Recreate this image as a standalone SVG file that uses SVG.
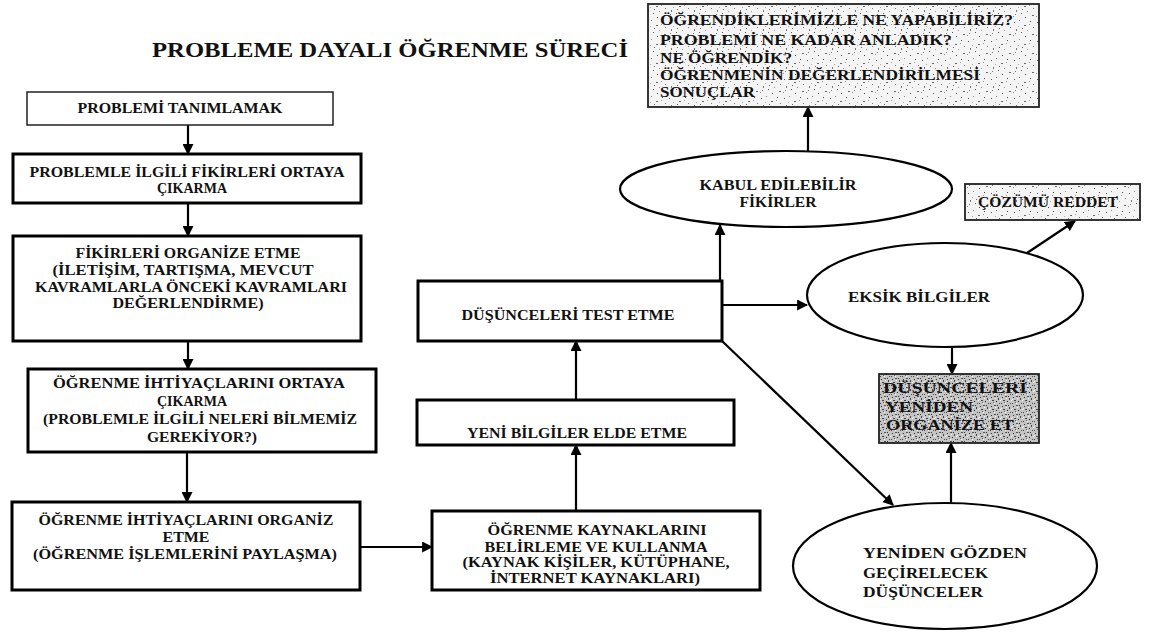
<svg xmlns="http://www.w3.org/2000/svg" width="1152" height="636" viewBox="0 0 1152 636">
<style>
  text { font-family: "Liberation Serif", "DejaVu Serif", serif; font-weight: bold; fill: #111; }
  .t { font-size: 14.5px; }
  .tb { font-size: 15.5px; }
  .c { text-anchor: middle; }
  .title { font-size: 22px; }
  .box { fill: #fff; stroke: #000; stroke-width: 3; }
  .thin { fill: #fff; stroke: #222; stroke-width: 1.5; }
  .ell { fill: #fff; stroke: #000; stroke-width: 2.2; }
  .stip { fill: url(#grain); stroke: #222; stroke-width: 1.8; }
  .stip2 { fill: url(#grain2); stroke: #222; stroke-width: 1.8; }
  .con { stroke: #000; stroke-width: 2.2; fill: none; marker-end: url(#ah); }
</style>
<defs>
  <marker id="ah" viewBox="0 0 10 10" refX="9" refY="5" markerWidth="5" markerHeight="5" markerUnits="strokeWidth" orient="auto">
    <path d="M0,0 L10,5 L0,10 z" fill="#000"/>
  </marker>
  <pattern id="grain" width="23" height="19" patternUnits="userSpaceOnUse">
    <rect width="23" height="19" fill="#f4f4f4"/>
    <rect x="2" y="3" width="1" height="1" fill="#555"/>
    <rect x="7" y="1" width="1" height="1" fill="#888"/>
    <rect x="12" y="6" width="2" height="1" fill="#666"/>
    <rect x="18" y="2" width="1" height="1" fill="#444"/>
    <rect x="4" y="10" width="1" height="2" fill="#777"/>
    <rect x="9" y="13" width="1" height="1" fill="#555"/>
    <rect x="15" y="11" width="1" height="1" fill="#999"/>
    <rect x="20" y="15" width="2" height="1" fill="#666"/>
    <rect x="1" y="16" width="1" height="1" fill="#888"/>
    <rect x="13" y="17" width="1" height="1" fill="#444"/>
    <rect x="21" y="8" width="1" height="1" fill="#777"/>
    <rect x="6" y="7" width="1" height="1" fill="#aaa"/>
    <rect x="10" y="9" width="1" height="1" fill="#666"/>
    <rect x="17" y="5" width="1" height="1" fill="#999"/>
    <rect x="3" y="14" width="1" height="1" fill="#777"/>
  </pattern>
  <pattern id="grain2" width="11" height="9" patternUnits="userSpaceOnUse">
    <rect width="11" height="9" fill="#c4c4c4"/>
    <rect x="1" y="1" width="1" height="1" fill="#333"/>
    <rect x="4" y="0" width="2" height="1" fill="#555"/>
    <rect x="8" y="2" width="1" height="2" fill="#444"/>
    <rect x="2" y="4" width="2" height="1" fill="#444"/>
    <rect x="6" y="5" width="1" height="1" fill="#222"/>
    <rect x="9" y="7" width="1" height="1" fill="#555"/>
    <rect x="0" y="7" width="1" height="1" fill="#444"/>
    <rect x="7" y="0" width="1" height="1" fill="#333"/>
    <rect x="3" y="6" width="1" height="1" fill="#666"/>
    <rect x="4" y="7" width="1" height="1" fill="#fff"/>
    <rect x="10" y="4" width="1" height="1" fill="#fff"/>
    <rect x="5" y="2" width="1" height="1" fill="#fff"/>
    <rect x="0" y="3" width="1" height="1" fill="#eee"/>
  </pattern>
</defs>
<rect width="1152" height="636" fill="#fff"/>

<text class="title" x="152" y="57" textLength="476" lengthAdjust="spacingAndGlyphs">PROBLEME DAYALI ÖĞRENME SÜRECİ</text>

<g id="connectors">
  <line class="con" x1="188" y1="125" x2="188" y2="154"/>
  <line class="con" x1="188" y1="203" x2="188" y2="236"/>
  <line class="con" x1="188" y1="341" x2="188" y2="369"/>
  <line class="con" x1="187" y1="452" x2="187" y2="502"/>
  <line class="con" x1="360" y1="547" x2="432" y2="547"/>
  <line class="con" x1="576" y1="511" x2="576" y2="445"/>
  <line class="con" x1="576" y1="400" x2="576" y2="341"/>
  <line class="con" x1="720" y1="281" x2="720" y2="225"/>
  <line class="con" x1="808" y1="151" x2="808" y2="107"/>
  <line class="con" x1="722" y1="305" x2="807" y2="305"/>
  <line class="con" x1="1027" y1="253" x2="1075" y2="221"/>
  <line class="con" x1="952" y1="347" x2="952" y2="374"/>
  <line class="con" x1="951" y1="503" x2="951" y2="443"/>
  <line class="con" x1="722" y1="341" x2="893" y2="505"/>
</g>

<g id="n-title-box">
  <rect class="stip" x="648" y="4" width="391" height="103"/>
  <text class="tb" x="660" y="25" textLength="353" lengthAdjust="spacingAndGlyphs">ÖĞRENDİKLERİMİZLE NE YAPABİLİRİZ?</text>
  <text class="tb" x="660" y="45" textLength="292" lengthAdjust="spacingAndGlyphs">PROBLEMİ NE KADAR ANLADIK?</text>
  <text class="tb" x="660" y="63" textLength="132" lengthAdjust="spacingAndGlyphs">NE ÖĞRENDİK?</text>
  <text class="tb" x="660" y="80" textLength="320" lengthAdjust="spacingAndGlyphs">ÖĞRENMENİN DEĞERLENDİRİLMESİ</text>
  <text class="tb" x="660" y="97" textLength="95" lengthAdjust="spacingAndGlyphs">SONUÇLAR</text>
</g>

<g id="n1">
  <rect class="thin" x="27" y="92" width="306" height="33"/>
  <text class="t c" x="180" y="113" textLength="205" lengthAdjust="spacingAndGlyphs">PROBLEMİ TANIMLAMAK</text>
</g>

<g id="n2">
  <rect class="box" x="13" y="154" width="348" height="49"/>
  <text class="t c" x="187" y="177" textLength="315" lengthAdjust="spacingAndGlyphs">PROBLEMLE İLGİLİ FİKİRLERİ ORTAYA</text>
  <text class="t c" x="192" y="193" textLength="70" lengthAdjust="spacingAndGlyphs">ÇIKARMA</text>
</g>

<g id="n3">
  <rect class="box" x="13" y="236" width="348" height="105"/>
  <text class="t c" x="188" y="258" textLength="225" lengthAdjust="spacingAndGlyphs">FİKİRLERİ ORGANİZE ETME</text>
  <text class="t c" x="183" y="275" textLength="261" lengthAdjust="spacingAndGlyphs">(İLETİŞİM, TARTIŞMA, MEVCUT</text>
  <text class="t c" x="191" y="292" textLength="312" lengthAdjust="spacingAndGlyphs">KAVRAMLARLA ÖNCEKİ KAVRAMLARI</text>
  <text class="t c" x="188" y="308" textLength="151" lengthAdjust="spacingAndGlyphs">DEĞERLENDİRME)</text>
</g>

<g id="n4">
  <rect class="box" x="28" y="369" width="348" height="83"/>
  <text class="t c" x="199" y="388" textLength="292" lengthAdjust="spacingAndGlyphs">ÖĞRENME İHTİYAÇLARINI ORTAYA</text>
  <text class="t c" x="192" y="406" textLength="70" lengthAdjust="spacingAndGlyphs">ÇIKARMA</text>
  <text class="t c" x="200" y="424" textLength="314" lengthAdjust="spacingAndGlyphs">(PROBLEMLE İLGİLİ NELERİ BİLMEMİZ</text>
  <text class="t c" x="202" y="442" textLength="110" lengthAdjust="spacingAndGlyphs">GEREKİYOR?)</text>
</g>

<g id="n5">
  <rect class="box" x="12" y="502" width="348" height="88"/>
  <text class="t c" x="186" y="525" textLength="295" lengthAdjust="spacingAndGlyphs">ÖĞRENME İHTİYAÇLARINI ORGANİZ</text>
  <text class="t c" x="186" y="542" textLength="47" lengthAdjust="spacingAndGlyphs">ETME</text>
  <text class="t c" x="185" y="559" textLength="304" lengthAdjust="spacingAndGlyphs">(ÖĞRENME İŞLEMLERİNİ PAYLAŞMA)</text>
</g>

<g id="n6">
  <rect class="box" x="432" y="511" width="328" height="79"/>
  <text class="t c" x="597" y="535" textLength="219" lengthAdjust="spacingAndGlyphs">ÖĞRENME KAYNAKLARINI</text>
  <text class="t c" x="596" y="552" textLength="223" lengthAdjust="spacingAndGlyphs">BELİRLEME VE KULLANMA</text>
  <text class="t c" x="596" y="567" textLength="267" lengthAdjust="spacingAndGlyphs">(KAYNAK KİŞİLER, KÜTÜPHANE,</text>
  <text class="t c" x="595" y="583" textLength="210" lengthAdjust="spacingAndGlyphs">İNTERNET KAYNAKLARI)</text>
</g>

<g id="n7">
  <rect class="box" x="417" y="400" width="317" height="45"/>
  <text class="t c" x="577" y="438" textLength="220" lengthAdjust="spacingAndGlyphs">YENİ BİLGİLER ELDE ETME</text>
</g>

<g id="n8">
  <rect class="box" x="418" y="281" width="304" height="60"/>
  <text class="t c" x="568" y="320" textLength="213" lengthAdjust="spacingAndGlyphs">DÜŞÜNCELERİ TEST ETME</text>
</g>

<g id="n-kabul">
  <ellipse class="ell" cx="786" cy="189" rx="166" ry="38"/>
  <text class="t c" x="778" y="190" textLength="157" lengthAdjust="spacingAndGlyphs">KABUL EDİLEBİLİR</text>
  <text class="t c" x="778" y="207" textLength="77" lengthAdjust="spacingAndGlyphs">FİKİRLER</text>
</g>

<g id="n-cozum">
  <rect class="stip" x="965" y="184" width="175" height="36"/>
  <text class="t" x="978" y="207" textLength="140" lengthAdjust="spacingAndGlyphs">ÇÖZÜMÜ REDDET</text>
</g>

<g id="n-eksik">
  <ellipse class="ell" cx="945" cy="295" rx="138" ry="52"/>
  <text class="t c" x="919" y="302" textLength="142" lengthAdjust="spacingAndGlyphs">EKSİK BİLGİLER</text>
</g>

<g id="n-organize">
  <rect class="stip2" x="879" y="374" width="160" height="69"/>
  <text class="t" x="883" y="393" textLength="144" lengthAdjust="spacingAndGlyphs">DÜŞÜNCELERİ</text>
  <text class="t" x="885" y="412" textLength="88" lengthAdjust="spacingAndGlyphs">YENİDEN</text>
  <text class="t" x="886" y="430" textLength="128" lengthAdjust="spacingAndGlyphs">ORGANİZE ET</text>
</g>

<g id="n-yeniden">
  <ellipse class="ell" cx="945" cy="566" rx="152" ry="63"/>
  <text class="t" x="863" y="558" textLength="164" lengthAdjust="spacingAndGlyphs">YENİDEN GÖZDEN</text>
  <text class="t" x="863" y="578" textLength="125" lengthAdjust="spacingAndGlyphs">GEÇİRELECEK</text>
  <text class="t" x="863" y="597" textLength="120" lengthAdjust="spacingAndGlyphs">DÜŞÜNCELER</text>
</g>
</svg>
